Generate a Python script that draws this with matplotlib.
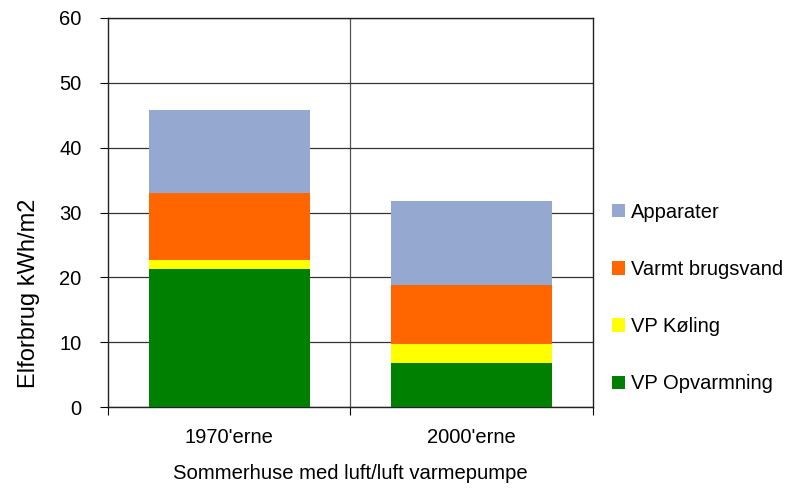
import matplotlib.pyplot as plt
import numpy as np

plt.rcParams['font.family'] = ['Liberation Sans', 'DejaVu Sans']

categories = ["1970'erne", "2000'erne"]
series_names = ['VP Opvarmning', 'VP Køling', 'Varmt brugsvand', 'Apparater']
vp_opvarmning = [21.25, 6.85]
vp_koeling = [1.35, 2.9]
varmt_brugsvand = [10.45, 9.05]
apparater = [12.75, 12.9]
colors = ['#008000', '#FFFF00', '#FF6600', '#95A9D0']

fig = plt.figure(figsize=(7.87, 4.93), dpi=100)
ax = fig.add_axes([0.1372, 0.1744, 0.6163, 0.7891])

x = np.arange(len(categories))
bottom = np.zeros(len(categories))
handles = []
for name, vals, c in zip(series_names,
                         [vp_opvarmning, vp_koeling, varmt_brugsvand, apparater],
                         colors):
    b = ax.bar(x, vals, width=0.665, bottom=bottom, color=c, label=name, zorder=3)
    handles.append(b)
    bottom += np.array(vals)

ax.set_xlim(-0.5, 1.5)
ax.set_ylim(0, 60)
ax.set_yticks(range(0, 61, 10))
ax.yaxis.grid(True, color='#333333', linewidth=0.9, zorder=0)
ax.axvline(0.5, color='#555555', linewidth=0.9, zorder=1)

# category ticks sit on the boundaries, labels centred under the bars
ax.set_xticks([-0.5, 0.5, 1.5])
ax.set_xticklabels([])
ax.set_xticks(x, minor=True)
ax.set_xticklabels(categories, minor=True, fontsize=14.5)
ax.tick_params(axis='x', which='minor', length=0, pad=15)
ax.tick_params(axis='x', which='major', length=6, direction='out')
ax.tick_params(axis='y', length=6, direction='out', labelsize=14.5, pad=13)

for s in ax.spines.values():
    s.set_color('#222222')
    s.set_linewidth(1.0)

ax.set_xlabel('Sommerhuse med luft/luft varmepumpe', fontsize=14.6, labelpad=12)
ax.set_ylabel('Elforbrug kWh/m2', fontsize=17)
ax.yaxis.set_label_coords(-0.14, 0.293)

fig.legend(handles[::-1], series_names[::-1], loc='center left',
           bbox_to_anchor=(0.778, 0.3955), frameon=False, fontsize=14.5,
           handlelength=0.65, handleheight=0.65, handletextpad=0.3,
           labelspacing=1.9, borderaxespad=0, borderpad=0)

fig.savefig('out.png', dpi=100)
